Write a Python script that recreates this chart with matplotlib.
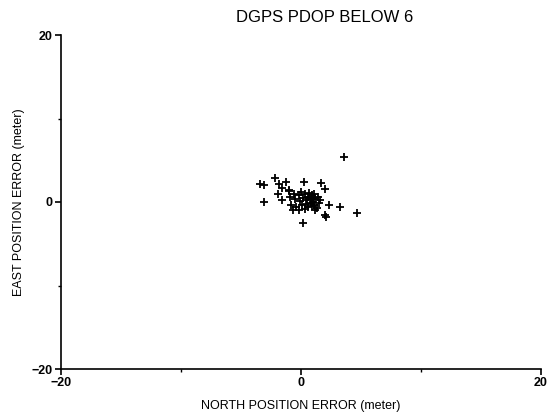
import matplotlib
matplotlib.use("Agg")
import matplotlib.pyplot as plt
from matplotlib.ticker import FixedLocator

plt.rcParams['font.family'] = ['Liberation Sans', 'DejaVu Sans']

title = "DGPS PDOP BELOW 6"
xlabel = "NORTH POSITION ERROR (meter)"
ylabel = "EAST POSITION ERROR (meter)"
major_ticks = [-20, 0, 20]
minor_ticks = [-10, 10]

north_err = [3.6, -3.4, -3.1, -2.2, -1.8, -1.6, -1.25, 0.25, 1.7, 2.0,
             -3.1, -1.9, -1.6, -1.0, 2.3, 3.25, 4.7, 2.0, 2.05, 0.2,
             -0.15, -0.7, 1.15,
             -1.0, -0.9, -0.8, -0.6, -0.5, -0.4, -0.2, -0.1, 0.0, 0.1,
             0.2, 0.3, 0.3, 0.4, 0.5, 0.6, 0.6, 0.7, 0.8, 0.8,
             0.9, 0.9, 1.0, 1.0, 1.1, 1.1, 1.2, 1.3, 1.4, 1.5, 1.6]
east_err = [5.4, 2.1, 2.0, 2.9, 2.1, 1.7, 2.4, 2.35, 2.3, 1.5,
            0.0, 1.0, 0.2, 1.4, -0.3, -0.55, -1.3, -1.6, -1.8, -2.5,
            -1.0, -0.9, -0.9,
            1.3, 0.6, -0.3, 1.0, 0.3, -0.6, 0.8, 0.1, 1.2, -0.4,
            0.5, -0.8, 0.9, 0.2, -0.2, 0.6, -0.6, 1.1, 0.3, -0.1,
            0.8, -0.5, 0.5, 0.0, -0.3, 1.0, 0.3, -0.7, 0.6, -0.1, 0.2]

fig = plt.figure(figsize=(5.51, 4.20), dpi=100)
ax = fig.add_axes([61/551, 1 - 369/420, 480/551, 334/420])

ax.plot(north_err, east_err, linestyle='none', marker='+', color='black',
        markersize=6, markeredgewidth=1.3)

ax.set_xlim(-20, 20)
ax.set_ylim(-20, 20)
ax.xaxis.set_major_locator(FixedLocator(major_ticks))
ax.yaxis.set_major_locator(FixedLocator(major_ticks))
ax.xaxis.set_minor_locator(FixedLocator(minor_ticks))
ax.yaxis.set_minor_locator(FixedLocator(minor_ticks))

for s in ['top', 'right']:
    ax.spines[s].set_visible(False)
for s in ['left', 'bottom']:
    ax.spines[s].set_linewidth(1.2)

ax.tick_params(which='major', direction='out', length=4, width=1.2,
               labelsize=9, pad=2)
ax.tick_params(which='minor', direction='out', length=2.5, width=1.0)
for lbl in ax.get_xticklabels() + ax.get_yticklabels():
    lbl.set_fontweight('bold')

ax.set_xlabel(xlabel, fontsize=9, labelpad=8)
ax.set_ylabel(ylabel, fontsize=9, labelpad=5)
fig.text(325/551, 1 - 17/420, title, fontsize=12, ha='center', va='center')

fig.savefig("out.png", dpi=100)
